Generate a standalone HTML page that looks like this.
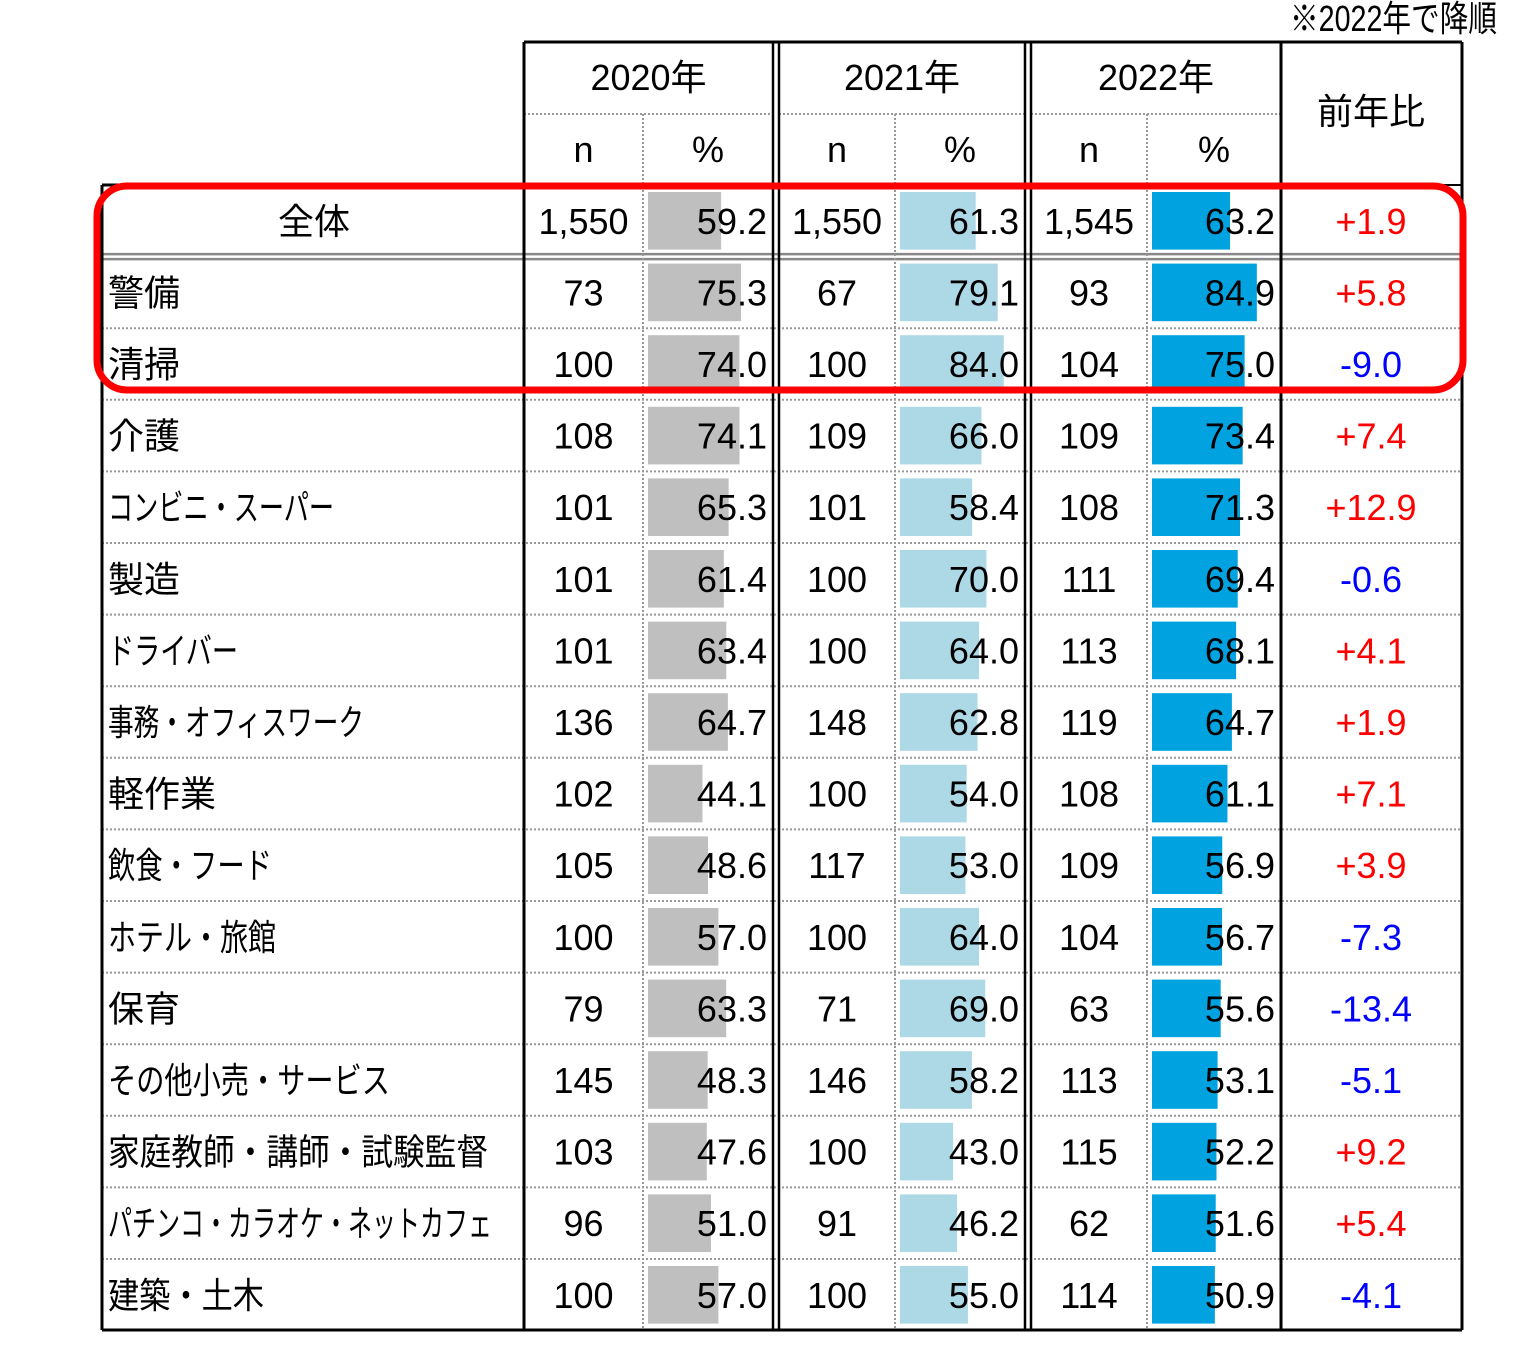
<!DOCTYPE html>
<html><head><meta charset="utf-8"><style>
body{margin:0;background:#fff;width:1540px;height:1350px;overflow:hidden}
svg{display:block}
text{font-family:"Liberation Sans","Noto Sans CJK JP",sans-serif;font-size:36px}
</style></head><body>
<svg id="chart" width="1540" height="1350" xmlns="http://www.w3.org/2000/svg"></svg>
<script>
const categories=["全体","警備","清掃","介護","コンビニ・スーパー","製造","ドライバー","事務・オフィスワーク","軽作業","飲食・フード","ホテル・旅館","保育","その他小売・サービス","家庭教師・講師・試験監督","パチンコ・カラオケ・ネットカフェ","建築・土木"];
const n2020=["1,550","73","100","108","101","101","101","136","102","105","100","79","145","103","96","100"];
const pct2020=[59.2,75.3,74.0,74.1,65.3,61.4,63.4,64.7,44.1,48.6,57.0,63.3,48.3,47.6,51.0,57.0];
const n2021=["1,550","67","100","109","101","100","100","148","100","117","100","71","146","100","91","100"];
const pct2021=[61.3,79.1,84.0,66.0,58.4,70.0,64.0,62.8,54.0,53.0,64.0,69.0,58.2,43.0,46.2,55.0];
const n2022=["1,545","93","104","109","108","111","113","119","108","109","104","63","113","115","62","114"];
const pct2022=[63.2,84.9,75.0,73.4,71.3,69.4,68.1,64.7,61.1,56.9,56.7,55.6,53.1,52.2,51.6,50.9];
const diff=[1.9,5.8,-9.0,7.4,12.9,-0.6,4.1,1.9,7.1,3.9,-7.3,-13.4,-5.1,9.2,5.4,-4.1];
const labelW=[0,0,0,0,226,0,130,256,0,164,168,0,282,380,384,156];

const svg=document.getElementById('chart');
const NS='http://www.w3.org/2000/svg';
function mk(tag,attrs,txt){const e=document.createElementNS(NS,tag);for(const k in attrs)e.setAttribute(k,attrs[k]);if(txt!==undefined)e.textContent=txt;svg.appendChild(e);return e;}
const top0=185,rowH=71.6;
const yRow=i=>top0+i*rowH;
const xScale=v=>v*1.235;
const years=[{n:n2020,p:pct2020,nx:[524,643],px:[643,773],col:'#bfbfbf',label:'2020年'},
 {n:n2021,p:pct2021,nx:[779,895],px:[895,1025],col:'#add8e6',label:'2021年'},
 {n:n2022,p:pct2022,nx:[1031,1147],px:[1147,1281],col:'#00a2e0',label:'2022年'}];

let t=mk('text',{x:1290,y:31,'font-size':'26',textLength:207,lengthAdjust:'spacingAndGlyphs'},'※2022年で降順');


years.forEach((y,k)=>{
 let h=mk('text',{x:(y.nx[0]+y.px[1])/2,y:90,'text-anchor':'middle'},y.label);
 
 let a=mk('text',{x:(y.nx[0]+y.nx[1])/2,y:162,'text-anchor':'middle'},'n');
 
 let b=mk('text',{x:(y.px[0]+y.px[1])/2,y:162,'text-anchor':'middle'},'%');
 
 mk('line',{x1:y.nx[0],x2:y.px[1],y1:114,y2:114,stroke:'#999','stroke-dasharray':'2,2','stroke-width':2});
});
let yh=mk('text',{x:1371,y:124,'text-anchor':'middle'},'前年比');


categories.forEach((c,i)=>{
 const y0=yRow(i),ty=y0+rowH/2+13;
 years.forEach((yr,k)=>{
  const bar=mk('rect',{x:yr.px[0]+5,y:y0+7,width:xScale(yr.p[i]),height:rowH-14,fill:yr.col});
  
  
  const nt=mk('text',{x:(yr.nx[0]+yr.nx[1])/2,y:ty,'text-anchor':'middle'},yr.n[i]);
  
  const pt=mk('text',{x:yr.px[1]-6,y:ty,'text-anchor':'end'},yr.p[i].toFixed(1));
  
 });
 const d=diff[i];
 const dt=mk('text',{x:1371,y:ty,'text-anchor':'middle',fill:d>=0?'#ff0000':'#0000ff'},(d>=0?'+':'')+d.toFixed(1));
 
 const la={x:i===0?314:108,y:ty,'text-anchor':i===0?'middle':'start'};
 if(labelW[i]){la.textLength=labelW[i];la.lengthAdjust='spacingAndGlyphs';}
 const lt=mk('text',la,c);
 
 if(i>0&&i!==1) mk('line',{x1:102,x2:1462,y1:y0,y2:y0,stroke:'#999','stroke-dasharray':'2,2','stroke-width':2});
});
mk('line',{x1:102,x2:1462,y1:yRow(1)-2.5,y2:yRow(1)-2.5,stroke:'#888','stroke-width':2.5});
mk('line',{x1:102,x2:1462,y1:yRow(1)+2.5,y2:yRow(1)+2.5,stroke:'#888','stroke-width':2.5});
[643,895,1147].forEach(x=>mk('line',{x1:x,x2:x,y1:114,y2:1330,stroke:'#999','stroke-dasharray':'2,2','stroke-width':2}));
const L=(x1,y1,x2,y2,w)=>mk('line',{x1,y1,x2,y2,stroke:'#000','stroke-width':w||3});
L(524,42,1462,42);L(102,185,524,185);L(524,185,1462,185,2);
L(102,1330,1462,1330);L(102,185,102,1330);L(524,42,524,1330);L(1462,42,1462,1330);
L(1281,42,1281,1330);
[773,779,1025,1031].forEach(x=>L(x,42,x,1330,2.5));
const hl=mk('rect',{x:97,y:186,width:1366,height:204,rx:30,fill:'none',stroke:'#ff0000','stroke-width':7});

</script>
</body></html>
